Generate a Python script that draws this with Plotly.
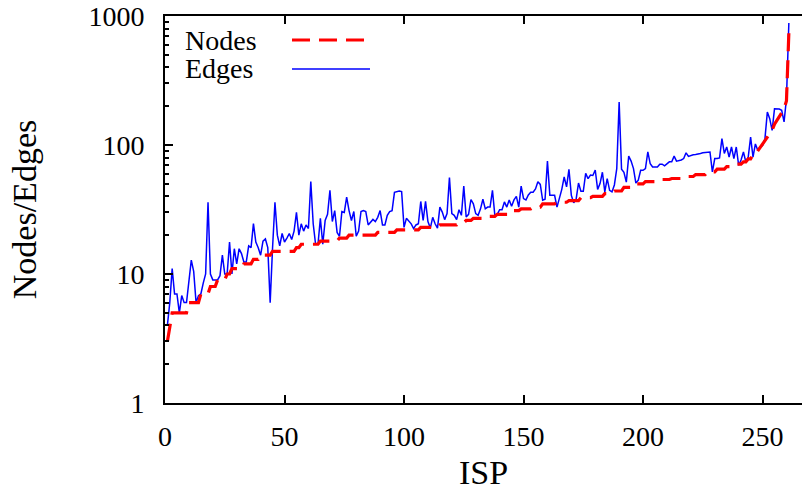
import plotly.graph_objects as go

isp = list(range(1, 262))

nodes = [3, 4, 5, 5, 5, 5, 5, 5, 5, 6,
         6, 6, 6, 6, 7, 7, 7, 7, 8, 8,
         8, 9, 9, 9, 9, 10, 10, 11, 11, 11,
         11, 11, 12, 12, 12, 12, 13, 13, 13, 14,
         14, 14, 14, 14, 15, 15, 15, 15, 15, 15,
         15, 15, 15, 15, 16, 16, 17, 17, 17, 17,
         17, 17, 17, 17, 18, 18, 18, 18, 18, 18,
         18, 18, 19, 19, 19, 19, 20, 20, 20, 20,
         20, 20, 20, 20, 20, 20, 20, 20, 21, 21,
         21, 21, 21, 21, 21, 21, 22, 22, 22, 22,
         22, 22, 22, 22, 22, 22, 23, 23, 23, 23,
         23, 23, 23, 23, 24, 24, 24, 24, 24, 24,
         24, 24, 25, 25, 25, 26, 26, 26, 27, 27,
         27, 27, 27, 28, 28, 28, 28, 28, 29, 29,
         29, 29, 29, 29, 31, 31, 31, 31, 32, 32,
         32, 32, 32, 33, 33, 33, 33, 35, 35, 35,
         35, 35, 35, 36, 36, 36, 36, 36, 37, 37,
         37, 37, 37, 39, 39, 39, 39, 39, 40, 40,
         40, 40, 40, 42, 42, 42, 42, 44, 44, 44,
         44, 47, 47, 47, 47, 50, 50, 50, 50, 50,
         52, 52, 52, 52, 52, 54, 54, 54, 54, 54,
         54, 55, 55, 55, 55, 55, 57, 57, 57, 57,
         57, 59, 59, 59, 59, 59, 62, 62, 62, 62,
         65, 65, 65, 65, 68, 68, 68, 68, 71, 71,
         71, 74, 74, 78, 78, 84, 84, 90, 95, 100,
         108, 115, 122, 130, 145, 155, 165, 175, 190, 220,
         740]

edges = [4, 6, 11, 7, 7, 5, 6.8, 6, 6, 9,
         12.8, 10.5, 6, 6.8, 7, 8.5, 10, 36, 10, 9,
         9, 9, 9.7, 14, 10, 10, 17.7, 10, 15.7, 12,
         15.7, 14.4, 12.4, 12.4, 16.5, 16, 24.6, 17.7, 16, 14,
         18, 18.7, 16, 6, 16, 36, 20, 16.5, 20.6, 17.7,
         19, 20.6, 18.5, 21.5, 30, 20, 24.5, 21.5, 24, 22.5,
         52, 24.5, 17, 17, 27, 17, 26, 29, 44.5, 25.5,
         31, 21, 19.6, 30.5, 30, 39.5, 31, 26, 30.5, 19.6,
         21.5, 30.5, 31, 30.5, 24, 25, 26.5, 25.5, 27.5, 31,
         24, 24, 28.5, 30.5, 31, 43, 43.5, 44, 43.5, 23,
         27, 25.5, 24.5, 22.5, 24, 24.5, 36.5, 26, 36.5, 25.5,
         22.7, 27.5, 24.5, 22.7, 33, 30.2, 26.4, 29.4, 56, 29.4,
         28.5, 26.4, 31.5, 28.5, 48, 27.7, 29, 37.8, 35, 29.4,
         28.5, 32, 38, 32, 33, 33, 44.5, 28.5, 29, 31.5,
         31.5, 36.2, 33, 37.5, 33.5, 37.5, 40, 33, 48, 38.4,
         37.5, 41, 43, 43, 45.7, 52, 49.5, 37.3, 38, 75,
         40.7, 40.7, 40.7, 33, 38, 45.3, 56.5, 47.3, 64.8, 40.7,
         35.7, 38, 50.7, 43.8, 43.8, 60.3, 54.8, 58.5, 58, 64,
         45.3, 50.2, 61.5, 43.3, 54.8, 44.5, 43.3, 49, 65.6, 215,
         64.8, 61.5, 51.5, 82, 75, 65.6, 50.7, 53.3, 63.7, 63.7,
         65.6, 88.3, 71.5, 67.5, 67.5, 67.5, 71, 71, 69, 72,
         74, 74, 82, 75, 75.5, 76.5, 78.5, 87, 81.5, 83,
         84, 84.5, 85.8, 86, 87, 87.5, 88.3, 88.3, 61.8, 78.5,
         78.5, 79.5, 112, 86, 96.5, 80.7, 96.5, 78.5, 96.5, 69.6,
         76.5, 88.3, 74, 80.7, 115, 80.7, 102, 91, 96.5, 99,
         112, 180, 160, 130, 191, 191, 190, 186, 151, 229,
         883]

x_ticks = [0, 50, 100, 150, 200, 250]
y_ticks = [1, 10, 100, 1000]
y_tick_text = ["1", "10", "100", "1000"]
series_names = ["Nodes", "Edges"]

FONT = "Liberation Serif, Times New Roman, serif"
RED = "#ff0000"
BLUE = "#0000ff"
RED_DASH = "18px,9px"

fig = go.Figure()
fig.add_trace(go.Scatter(x=isp, y=edges, mode="lines", name=series_names[1],
                         line=dict(color=BLUE, width=1.5), showlegend=False))
fig.add_trace(go.Scatter(x=isp, y=nodes, mode="lines", name=series_names[0],
                         line=dict(color=RED, width=3.2, dash=RED_DASH), showlegend=False))

W, H = 802, 494
L, R, T, B = 165, 0, 16, 91
pw, ph = W - L - R, H - T - B

def px_x(p):
    return (p - L) / pw

def px_y(p):
    return (H - B - p) / ph

# manual gnuplot-style legend (text left, sample right)
legend_rows = [(series_names[0], 40, RED, RED_DASH, 3.2), (series_names[1], 69, BLUE, "solid", 1.5)]
for name, yy, col, dash, w in legend_rows:
    fig.add_annotation(x=px_x(183), y=px_y(yy), xref="paper", yref="paper",
                       text=name, showarrow=False, xanchor="left", yanchor="middle",
                       font=dict(family=FONT, size=28, color="black"))
    fig.add_shape(type="line", xref="paper", yref="paper",
                  x0=px_x(292), x1=px_x(370), y0=px_y(yy), y1=px_y(yy),
                  line=dict(color=col, width=w, dash=dash))

fig.update_layout(
    width=W, height=H,
    margin=dict(l=L, r=R, t=T, b=B, autoexpand=False),
    paper_bgcolor="white", plot_bgcolor="white",
    font=dict(family=FONT, size=28, color="black"),
    showlegend=False,
    xaxis=dict(range=[0, 266.5], tickvals=x_ticks, ticks="inside", ticklen=8,
               tickwidth=1.5, tickcolor="black", showline=True, linecolor="black",
               linewidth=2, mirror="ticks", showgrid=False, zeroline=False,
               title=dict(text="ISP", standoff=10), ticklabelstandoff=7),
    yaxis=dict(type="log", range=[0, 3], tickvals=y_ticks, ticktext=y_tick_text,
               ticks="inside", ticklen=8, tickwidth=1.5, tickcolor="black",
               showline=True, linecolor="black", linewidth=2, mirror=False,
               showgrid=False, zeroline=False,
               minor=dict(ticks="inside", ticklen=4, tickwidth=1.5, tickcolor="black",
                          dtick="D1", showgrid=False),
               title=dict(text="Nodes/Edges", standoff=42), ticklabelstandoff=13),
)

fig.write_html("out.html")
